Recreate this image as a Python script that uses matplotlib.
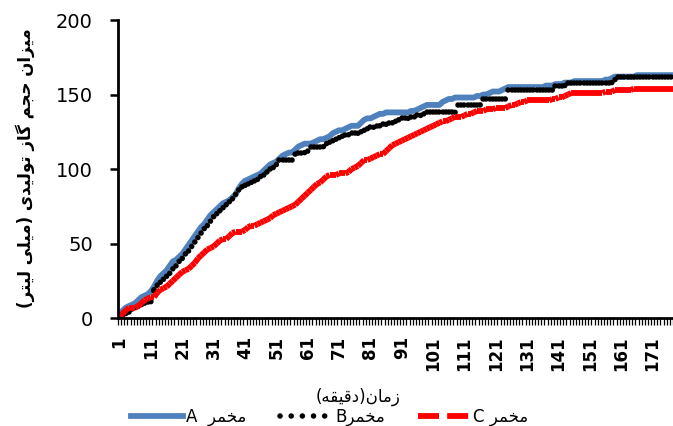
import numpy as np
import matplotlib
matplotlib.use("Agg")
import matplotlib.pyplot as plt
from matplotlib.collections import LineCollection
from matplotlib.lines import Line2D


# =========================
# 1. Data (cumulative gas volume, mL, one value per minute)
# =========================

minutes = np.arange(1, 179)

yeast_a = [
    3, 5, 7, 8, 9, 10, 12, 14, 15, 16,
    18, 21, 25, 28, 30, 32, 35, 38, 39, 41,
    43, 46, 49, 52, 55, 58, 61, 63, 66, 69,
    71, 73, 75, 77, 78, 79, 81, 83, 87, 90,
    92, 93, 94, 95, 96, 97, 99, 101, 103, 104,
    105, 107, 109, 110, 111, 111, 113, 115, 116, 117,
    117, 117, 118, 119, 120, 120, 121, 122, 124, 125,
    126, 126, 127, 128, 129, 129, 129, 131, 133, 134,
    134, 135, 136, 137, 137, 138, 138, 138, 138, 138,
    138, 138, 138, 139, 139, 140, 141, 142, 143, 143,
    143, 143, 143, 145, 146, 147, 147, 148, 148, 148,
    148, 148, 148, 148, 149, 149, 150, 150, 151, 152,
    152, 152, 153, 154, 155, 155, 155, 155, 155, 155,
    155, 155, 155, 155, 155, 155, 156, 156, 156, 157,
    157, 157, 158, 158, 158, 159, 159, 159, 159, 159,
    159, 159, 159, 159, 159, 160, 160, 161, 162, 162,
    162, 162, 162, 162, 162, 163, 163, 163, 163, 163,
    163, 163, 163, 163, 163, 163, 163, 163,
]

yeast_b = [
    1, 2, 3, 4, 6, 7, 8, 9, 10, 11,
    11, 19, 22, 24, 26, 28, 30, 33, 35, 38,
    40, 43, 45, 48, 51, 54, 57, 60, 62, 65,
    68, 70, 72, 74, 76, 78, 80, 83, 86, 88,
    89, 90, 91, 92, 93, 95, 96, 98, 100, 101,
    103, 106, 106, 106, 106, 106, 110, 111, 111, 111,
    112, 115, 115, 115, 115, 115, 117, 118, 119, 120,
    121, 122, 123, 123, 124, 124, 124, 125, 126, 127,
    128, 128, 129, 129, 130, 130, 131, 131, 132, 133,
    134, 134, 134, 135, 135, 136, 136, 137, 138, 138,
    138, 138, 138, 138, 138, 138, 138, 138, 143, 143,
    143, 143, 143, 143, 143, 143, 147, 147, 147, 147,
    147, 147, 147, 147, 153, 153, 153, 153, 153, 153,
    153, 153, 153, 153, 153, 153, 153, 153, 153, 156,
    156, 156, 156, 158, 158, 158, 158, 158, 158, 158,
    158, 158, 158, 158, 158, 158, 158, 158, 160, 162,
    162, 162, 162, 162, 162, 162, 162, 162, 162, 162,
    162, 162, 162, 162, 162, 162, 162, 162,
]

yeast_c = [
    1, 3, 5, 7, 7, 7, 8, 10, 12, 13,
    14, 14, 17, 19, 20, 21, 23, 25, 27, 29,
    31, 32, 33, 35, 37, 40, 42, 44, 46, 47,
    48, 50, 52, 53, 53, 55, 57, 58, 58, 58,
    59, 61, 62, 62, 63, 64, 65, 66, 67, 69,
    70, 71, 72, 73, 74, 75, 76, 78, 80, 82,
    84, 86, 88, 90, 91, 93, 95, 96, 96, 96,
    97, 97, 97, 98, 100, 101, 102, 104, 106, 106,
    107, 108, 109, 110, 110, 112, 114, 116, 117, 118,
    119, 120, 121, 122, 123, 124, 125, 126, 127, 128,
    129, 130, 131, 132, 132, 133, 134, 135, 135, 135,
    136, 137, 137, 138, 139, 139, 139, 140, 140, 140,
    141, 141, 141, 141, 142, 143, 143, 144, 145, 145,
    146, 146, 146, 146, 146, 146, 146, 146, 147, 147,
    148, 148, 149, 150, 151, 151, 151, 151, 151, 151,
    151, 151, 151, 151, 151, 152, 152, 152, 153, 153,
    153, 153, 153, 153, 154, 154, 154, 154, 154, 154,
    154, 154, 154, 154, 154, 154, 154, 154,
]

x_tick_values = list(range(1, 172, 10))
y_tick_values = [0, 50, 100, 150, 200]

y_label_text = "میزان حجم گاز تولیدی (میلی لیتر)"
x_label_text = "زمان(دقیقه)"
yeast_word = "مخمر"


# =========================
# 2. Simple Persian shaping (matplotlib has no RTL / joining support)
# =========================

FORMS = {
    "ا": ("\uFE8D", "\uFE8E", None, None),
    "ب": ("\uFE8F", "\uFE90", "\uFE91", "\uFE92"),
    "ت": ("\uFE95", "\uFE96", "\uFE97", "\uFE98"),
    "ج": ("\uFE9D", "\uFE9E", "\uFE9F", "\uFEA0"),
    "ح": ("\uFEA1", "\uFEA2", "\uFEA3", "\uFEA4"),
    "خ": ("\uFEA5", "\uFEA6", "\uFEA7", "\uFEA8"),
    "د": ("\uFEA9", "\uFEAA", None, None),
    "ر": ("\uFEAD", "\uFEAE", None, None),
    "ز": ("\uFEAF", "\uFEB0", None, None),
    "س": ("\uFEB1", "\uFEB2", "\uFEB3", "\uFEB4"),
    "ق": ("\uFED5", "\uFED6", "\uFED7", "\uFED8"),
    "ک": ("\uFB8E", "\uFB8F", "\uFB90", "\uFB91"),
    "گ": ("\uFB92", "\uFB93", "\uFB94", "\uFB95"),
    "ل": ("\uFEDD", "\uFEDE", "\uFEDF", "\uFEE0"),
    "م": ("\uFEE1", "\uFEE2", "\uFEE3", "\uFEE4"),
    "ن": ("\uFEE5", "\uFEE6", "\uFEE7", "\uFEE8"),
    "ه": ("\uFEE9", "\uFEEA", "\uFEEB", "\uFEEC"),
    "و": ("\uFEED", "\uFEEE", None, None),
    "ی": ("\uFBFC", "\uFBFD", "\uFBFE", "\uFBFF"),
}
MIRROR = {"(": ")", ")": "("}


def persian(text):
    out = []
    for i, c in enumerate(text):
        if c not in FORMS:
            out.append(c)
            continue
        prev = text[i - 1] if i > 0 else ""
        nxt = text[i + 1] if i + 1 < len(text) else ""
        iso, fin, ini, med = FORMS[c]
        join_prev = prev in FORMS and FORMS[prev][2] is not None
        join_next = nxt in FORMS and ini is not None
        if join_prev and join_next:
            out.append(med)
        elif join_prev:
            out.append(fin)
        elif join_next:
            out.append(ini)
        else:
            out.append(iso)
    return "".join(MIRROR.get(c, c) for c in reversed(out))


def segments(x, y):
    pts = np.column_stack([x, y])
    return np.stack([pts[:-1], pts[1:]], axis=1)


# =========================
# 3. Plot
# =========================

plt.rcParams["font.family"] = ["DejaVu Sans"]

fig = plt.figure(figsize=(6.73, 4.26), dpi=100)
ax = fig.add_axes([0.1753, 0.2535, 0.8247, 0.6995])

blue = "#4F81BD"
red = "#FF0000"
dot_style = (0, (0.01, 2.0))
dash_style = (0, (3.6, 1.4))

# 每段单独重新开始虚线样式（与 Excel 一样）
ax.plot(minutes, yeast_a, color=blue, linewidth=4.2, solid_joinstyle="round")
ax.add_collection(LineCollection(segments(minutes, yeast_b), colors="black",
                                 linewidths=4.0, linestyles=[dot_style],
                                 capstyle="round", zorder=2.1))
ax.add_collection(LineCollection(segments(minutes, yeast_c), colors=red,
                                 linewidths=4.2, linestyles=[dash_style],
                                 capstyle="butt", zorder=2.2))

ax.set_xlim(0.5, 177.5)
ax.set_ylim(0, 200)

ax.set_xticks(x_tick_values)
ax.set_xticklabels([str(v) for v in x_tick_values], rotation=90,
                   fontweight="bold", fontsize=12)
ax.set_xticks(np.arange(0.5, 178, 1.0), minor=True)
ax.tick_params(axis="x", which="major", length=0, pad=13)
ax.tick_params(axis="x", which="minor", length=5, width=0.9, direction="out")

ax.set_yticks(y_tick_values)
ax.tick_params(axis="y", labelsize=14, length=6, width=1.8, pad=12)

for side in ["top", "right"]:
    ax.spines[side].set_visible(False)
for side in ["left", "bottom"]:
    ax.spines[side].set_linewidth(2.0)

fig.text(0.532, 0.068, persian(x_label_text), ha="center", va="center",
         fontsize=12)
fig.text(0.037, 0.605, persian(y_label_text), ha="center", va="center",
         rotation=90, fontsize=12, fontweight="bold")

handles = [
    Line2D([], [], color=blue, linewidth=4.2),
    Line2D([], [], color="black", linewidth=4.0, linestyle=dot_style,
           dash_capstyle="round"),
    Line2D([], [], color=red, linewidth=4.2, linestyle=dash_style),
]
labels = ["A  " + persian(yeast_word), "B" + persian(yeast_word),
          "C " + persian(yeast_word)]
fig.legend(handles, labels, loc="center", bbox_to_anchor=(0.49, 0.021),
           ncol=3, frameon=False, fontsize=12, handlelength=3.1,
           handletextpad=0.2, columnspacing=2.0, borderpad=0)

fig.savefig("out.png", dpi=100)
